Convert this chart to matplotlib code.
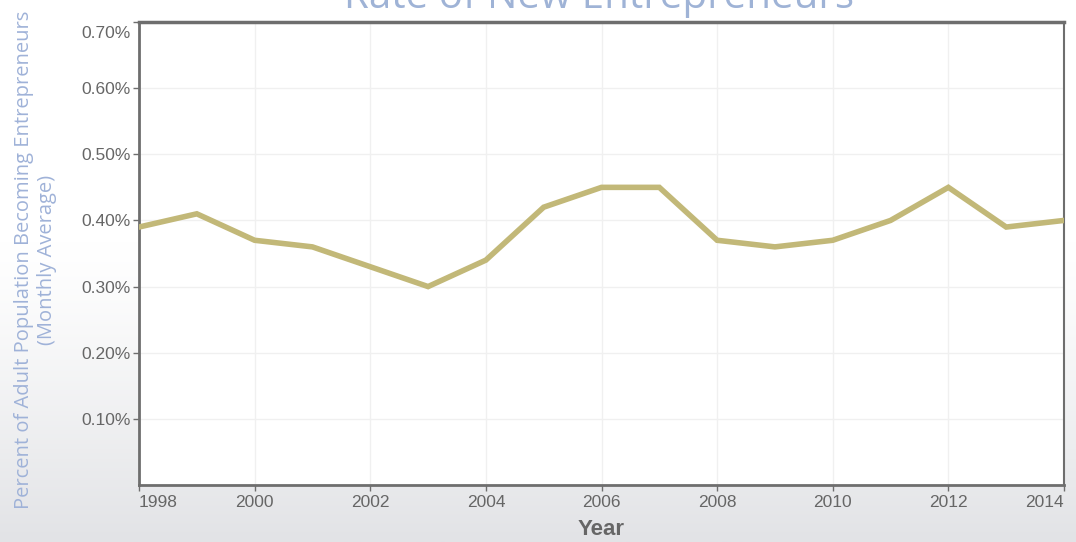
import numpy as np
import matplotlib.pyplot as plt
import matplotlib.transforms as mtransforms
from matplotlib.ticker import FuncFormatter

# data
years = [1998, 1999, 2000, 2001, 2002, 2003, 2004, 2005, 2006,
         2007, 2008, 2009, 2010, 2011, 2012, 2013, 2014]
rate = [0.39, 0.41, 0.37, 0.36, 0.33, 0.30, 0.34, 0.42, 0.45,
        0.45, 0.37, 0.36, 0.37, 0.40, 0.45, 0.39, 0.40]
x_ticks = [1998, 2000, 2002, 2004, 2006, 2008, 2010, 2012, 2014]
y_ticks = [0.1, 0.2, 0.3, 0.4, 0.5, 0.6, 0.7]

fig = plt.figure(figsize=(10.76, 5.42), dpi=100)

# background gradient: white on top fading to light grey
bg = fig.add_axes([0, 0, 1, 1], zorder=-10)
grad = np.linspace(0, 1, 256)
grad = np.clip((grad - 0.45) / 0.55, 0, 1) ** 1.2
r = 1 - grad * (1 - 0xe2 / 255)
g = 1 - grad * (1 - 0xe3 / 255)
b = 1 - grad * (1 - 0xe6 / 255)
img = np.dstack([r, g, b]).reshape(256, 1, 3)
bg.imshow(img, aspect='auto', extent=[0, 1, 0, 1], origin='upper')
bg.axis('off')

ax = fig.add_axes([139 / 1076, 1 - 485 / 542, (1064 - 139) / 1076, (485 - 22) / 542])
ax.set_facecolor('white')
ax.plot(years, rate, color='#c2b878', linewidth=4, solid_joinstyle='miter', zorder=3)

ax.set_xlim(1998, 2014)
ax.set_ylim(0, 0.7)
ax.set_xticks(x_ticks)
ax.set_yticks(y_ticks)
ax.yaxis.set_major_formatter(FuncFormatter(lambda v, p: f"{v:.2f}%"))
ax.grid(True, color='#f0f0f0', linewidth=1)
ax.set_axisbelow(True)

for s in ax.spines.values():
    s.set_color('#6e6e6e')
    s.set_linewidth(1.5)
ax.spines['left'].set_linewidth(2)
ax.spines['bottom'].set_linewidth(2)
ax.spines['top'].set_linewidth(2.5)

ax.tick_params(axis='both', colors='#6e6e6e', labelcolor='#666666', labelsize=12.5,
               length=4, width=1, direction='out')
ax.tick_params(axis='y', pad=2)
for lab in ax.get_xticklabels() + ax.get_yticklabels():
    lab.set_family('Liberation Sans')
xl = ax.get_xticklabels()
xl[0].set_horizontalalignment('left')
xl[-1].set_horizontalalignment('right')
top_lab = ax.get_yticklabels()[-1]
top_lab.set_verticalalignment('top')
top_lab.set_transform(top_lab.get_transform() +
                      mtransforms.ScaledTranslation(0, -4 / 100, fig.dpi_scale_trans))

ax.set_xlabel('Year', fontsize=16, fontweight='bold', color='#666666',
              family='Liberation Sans', labelpad=6)

fig.text(0.033, 0.52, 'Percent of Adult Population Becoming Entrepreneurs\n(Monthly Average)',
         rotation=90, ha='center', va='center', fontsize=14.5, color='#9fb2d8',
         family='Open Sans', linespacing=1.2)

fig.text(0.557, 0.985, 'Rate of New Entrepreneurs', ha='center', va='baseline',
         fontsize=29, color='#9fb3d6', family='Open Sans')

fig.savefig('out.png', dpi=100)
